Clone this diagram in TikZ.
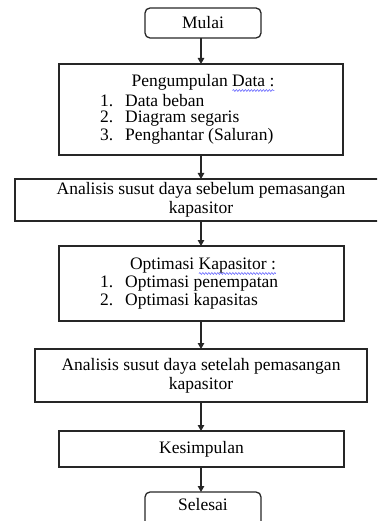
\documentclass[tikz,border=0pt]{standalone}
\usepackage{fontspec}
\setmainfont{Liberation Serif}
\usetikzlibrary{arrows.meta,decorations.pathmorphing}
\begin{document}
\begin{tikzpicture}[x=1pt,y=-1pt,
  every node/.style={inner sep=0pt,outer sep=0pt},
  txt/.style={font=\fontsize{17.5}{19}\selectfont,anchor=center},
  boxst/.style={draw=black!85,line width=1.3pt,rectangle},
  termst/.style={draw=black!85,line width=1.3pt,rectangle,rounded corners=5pt},
  arr/.style={draw=black!85,line width=1.2pt,-{Triangle[length=6pt,width=6.5pt]}},
  wavy/.style={draw=blue!70,line width=0.5pt,decorate,decoration={snake,amplitude=0.9pt,segment length=3pt}}]
\clip (0,0) rectangle (377,521);
\useasboundingbox (0,0) rectangle (377,521);
% boxes
\node[termst,minimum width=116pt,minimum height=30pt] (mulai) at (203,23) {};
\node[txt] (tmulai) at (203,23) {Mulai};
\node[boxst,minimum width=284pt,minimum height=91pt] (pd) at (201,109.5) {};
\node[txt] (pdt) at (203,82.5) {Pengumpulan Data :};
\node[txt,anchor=west] (pd1) at (100,100.5) {1.\hspace{12pt}Data beban};
\node[txt,anchor=west] (pd2) at (100,118.5) {2.\hspace{12pt}Diagram segaris};
\node[txt,anchor=west] (pd3) at (100,136.5) {3.\hspace{12pt}Penghantar (Saluran)};
\node[boxst,minimum width=372pt,minimum height=42pt] (a1) at (201,200) {};
\node[txt,align=center] (a1t) at (201,200) {Analisis susut daya sebelum pemasangan\\kapasitor};
\node[boxst,minimum width=285pt,minimum height=75pt] (ok) at (201.5,283.5) {};
\node[txt] (okt) at (203,265.5) {Optimasi Kapasitor :};
\node[txt,anchor=west] (ok1) at (100,283.5) {1.\hspace{12pt}Optimasi penempatan};
\node[txt,anchor=west] (ok2) at (100,301.5) {2.\hspace{12pt}Optimasi kapasitas};
\node[boxst,minimum width=332pt,minimum height=53pt] (a2) at (201,375.5) {};
\node[txt,align=center] (a2t) at (201,375.5) {Analisis susut daya setelah pemasangan\\kapasitor};
\node[boxst,minimum width=285pt,minimum height=36pt] (ks) at (201.5,449) {};
\node[txt] (kst) at (201.5,449) {Kesimpulan};
\node[termst,minimum width=116pt,minimum height=34pt] (sel) at (203,509) {};
\node[txt] (selt) at (203,505) {Selesai};
% spell-check squiggles
\coordinate (w1a) at ([xshift=-42pt,yshift=-8pt]pdt.east);
\coordinate (w1b) at ([yshift=-8pt]pdt.east);
\draw[wavy] (w1a) -- (w1b);
\coordinate (w2a) at ([xshift=-77pt,yshift=-8pt]okt.east);
\coordinate (w2b) at ([yshift=-8pt]okt.east);
\draw[wavy] (w2a) -- (w2b);
% arrows
\draw[arr] (mulai.south -| 201,0) -- (pd.north -| 201,0);
\draw[arr] (pd.south) -- (a1.north);
\draw[arr] (a1.south) -- (ok.north -| a1.south);
\draw[arr] (ok.south -| a1.south) -- (a2.north);
\draw[arr] (a2.south) -- (ks.north -| a2.south);
\draw[arr] (ks.south -| a2.south) -- (sel.north -| a2.south);
\end{tikzpicture}
\end{document}
